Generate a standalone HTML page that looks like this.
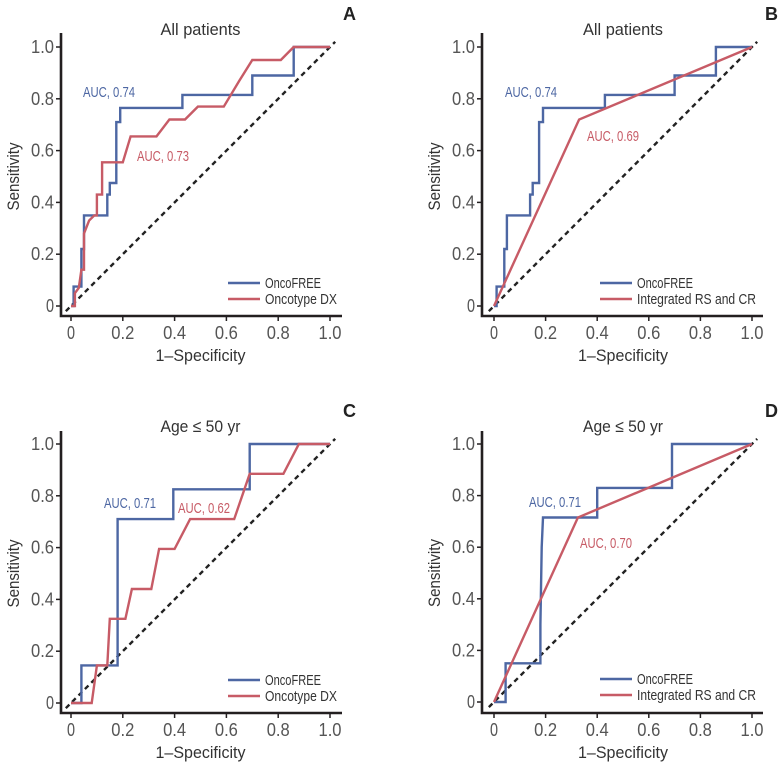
<!DOCTYPE html>
<html><head><meta charset="utf-8"><style>
body{margin:0;background:#fff}
svg text{font-family:"Liberation Sans",sans-serif}
</style></head><body>
<svg id="fig" width="778" height="767" xmlns="http://www.w3.org/2000/svg"></svg>
<script>
const blueA_x=[0,0.01,0.01,0.04,0.04,0.05,0.05,0.14,0.14,0.15,0.15,0.175,0.175,0.19,0.19,0.43,0.43,0.70,0.70,0.86,0.86,1.0];
const blueA_y=[0,0,0.075,0.075,0.22,0.22,0.35,0.35,0.43,0.43,0.475,0.475,0.71,0.71,0.765,0.765,0.815,0.815,0.89,0.89,1.0,1.0];
const redA_x=[0,0.015,0.015,0.03,0.04,0.05,0.05,0.07,0.09,0.10,0.10,0.12,0.12,0.20,0.23,0.33,0.38,0.44,0.49,0.59,0.65,0.70,0.81,0.86,1.0];
const redA_y=[0,0,0.05,0.07,0.14,0.14,0.28,0.33,0.35,0.35,0.43,0.43,0.555,0.555,0.655,0.655,0.72,0.72,0.77,0.77,0.87,0.95,0.95,1.0,1.0];
const redB_x=[0,0.33,1.0];
const redB_y=[0,0.72,1.0];
const blueC_x=[0,0.04,0.04,0.18,0.18,0.395,0.395,0.69,0.69,0.87,1.0];
const blueC_y=[0,0,0.145,0.145,0.71,0.71,0.825,0.825,1.0,1.0,1.0];
const redC_x=[0,0.08,0.10,0.14,0.15,0.21,0.235,0.31,0.34,0.40,0.46,0.63,0.69,0.82,0.88,1.0];
const redC_y=[0,0,0.145,0.145,0.325,0.325,0.44,0.44,0.595,0.595,0.71,0.71,0.885,0.885,1.0,1.0];
const blueD_x=[0,0.045,0.045,0.18,0.18,0.185,0.19,0.40,0.40,0.69,0.69,1.0];
const blueD_y=[0,0,0.15,0.15,0.3,0.6,0.715,0.715,0.83,0.83,1.0,1.0];
const redD_x=[0,0.325,1.0];
const redD_y=[0,0.715,1.0];
const ticks=[0,0.2,0.4,0.6,0.8,1.0];
const tickLabels=["0","0.2","0.4","0.6","0.8","1.0"];

const NS="http://www.w3.org/2000/svg";
const svg=document.getElementById('fig');
const BLUE="#4d67a3",RED="#c75b66";
function mk(tag,attrs,parent,txt){const e=document.createElementNS(NS,tag);for(const k in attrs)e.setAttribute(k,attrs[k]);if(txt!==undefined)e.textContent=txt;(parent||svg).appendChild(e);return e;}
function tl(len){return {textLength:len,lengthAdjust:'spacingAndGlyphs'};}

function panel(o){
  const g=mk('g',{});
  
  
  const sx=v=>o.x0+v*(o.x1-o.x0), sy=v=>o.y0-v*(o.y0-o.y1);
  const d=mk('line',{x1:sx(-0.02),y1:sy(-0.02),x2:sx(1.02),y2:sy(1.02),stroke:'#222','stroke-width':2.4,'stroke-dasharray':'5,4'},g);
  
  
  [[o.bx,o.by,BLUE,'oncofree-curve'],[o.rx,o.ry,RED,o.redName]].forEach(s=>{
    const pts=s[0].map((v,i)=>sx(v).toFixed(1)+','+sy(s[1][i]).toFixed(1)).join(' ');
    const p=mk('polyline',{points:pts,fill:'none',stroke:s[2],'stroke-width':2.4,'stroke-linejoin':'miter'},g);
    
    
  });
  const ax=mk('path',{d:`M${o.ax},${o.ytop} V${o.ab} H${o.ax+281}`,fill:'none',stroke:'#231f20','stroke-width':2.6},g);
  
  
  ticks.forEach((t,i)=>{
    const w=tickLabels[i].length>1?23:8;
    mk('line',{x1:o.ax-5,x2:o.ax,y1:sy(t),y2:sy(t),stroke:'#231f20','stroke-width':1.5},g);
    const yl=mk('text',Object.assign({x:o.ax-7-w,y:sy(t)+6,'font-size':18,fill:'#555'},tl(w)),g,tickLabels[i]);
    
    
    mk('line',{x1:sx(t),x2:sx(t),y1:o.ab,y2:o.ab+5,stroke:'#231f20','stroke-width':1.5},g);
    const xl=mk('text',Object.assign({x:sx(t)-w/2,y:o.ab+23,'font-size':18,fill:'#555'},tl(w)),g,tickLabels[i]);
    
    
  });
  const yt=mk('text',Object.assign({x:-34,y:0,transform:`translate(${o.ax-42},${(o.y0+o.y1)/2}) rotate(-90)`,'font-size':17,fill:'#333'},tl(68)),g,'Sensitivity');
  
  
  const xt=mk('text',Object.assign({x:(o.x0+o.x1)/2-45,y:o.ab+45,'font-size':17,fill:'#333'},tl(90)),g,'1–Specificity');
  
  
  const ti=mk('text',Object.assign({x:(o.x0+o.x1)/2-40,y:o.y1-12,'font-size':17,fill:'#333'},tl(80)),g,o.title);
  
  
  const le=mk('text',{x:o.letterX,y:o.y1-27,'font-size':18,'font-weight':'bold',fill:'#222'},g,o.letter);
  
  
  const a1=mk('text',Object.assign({x:o.ab1[0],y:o.ab1[1],'font-size':15,fill:BLUE},tl(52)),g,o.ab1[2]);
  
  
  const a2=mk('text',Object.assign({x:o.ab2[0],y:o.ab2[1],'font-size':15,fill:RED},tl(52)),g,o.ab2[2]);
  
  
  const lg=mk('g',{},g);
  
  
  [[BLUE,'OncoFREE',0,56],[RED,o.redLabel,16,o.redW]].forEach(l=>{
    mk('line',{x1:o.lx,x2:o.lx+32,y1:o.y0-23+l[2],y2:o.y0-23+l[2],stroke:l[0],'stroke-width':2.6},lg);
    const t=mk('text',Object.assign({x:o.lx+37,y:o.y0-18+l[2],'font-size':15,fill:'#333'},tl(l[3])),lg,l[1]);
    
    
  });
}
panel({letter:'A',x0:71,x1:330,y0:306,y1:47,ax:61,ab:316,ytop:33,title:'All patients',letterX:343,bx:blueA_x,by:blueA_y,rx:redA_x,ry:redA_y,redName:'oncotype-dx-curve',redLabel:'Oncotype DX',redW:72,ab1:[83,97,'AUC, 0.74'],ab2:[137,161,'AUC, 0.73'],lx:228});
panel({letter:'B',x0:494,x1:752,y0:306,y1:47,ax:482,ab:316,ytop:33,title:'All patients',letterX:765,bx:blueA_x,by:blueA_y,rx:redB_x,ry:redB_y,redName:'integrated-rs-cr-curve',redLabel:'Integrated RS and CR',redW:119,ab1:[505,97,'AUC, 0.74'],ab2:[587,141,'AUC, 0.69'],lx:600});
panel({letter:'C',x0:71,x1:330,y0:703,y1:444,ax:61,ab:713,ytop:431,title:'Age ≤ 50 yr',letterX:343,bx:blueC_x,by:blueC_y,rx:redC_x,ry:redC_y,redName:'oncotype-dx-curve',redLabel:'Oncotype DX',redW:72,ab1:[104,508,'AUC, 0.71'],ab2:[178,513,'AUC, 0.62'],lx:228});
panel({letter:'D',x0:494,x1:752,y0:702,y1:444,ax:482,ab:713,ytop:431,title:'Age ≤ 50 yr',letterX:765,bx:blueD_x,by:blueD_y,rx:redD_x,ry:redD_y,redName:'integrated-rs-cr-curve',redLabel:'Integrated RS and CR',redW:119,ab1:[529,507,'AUC, 0.71'],ab2:[580,548,'AUC, 0.70'],lx:600});
</script>
</body></html>
